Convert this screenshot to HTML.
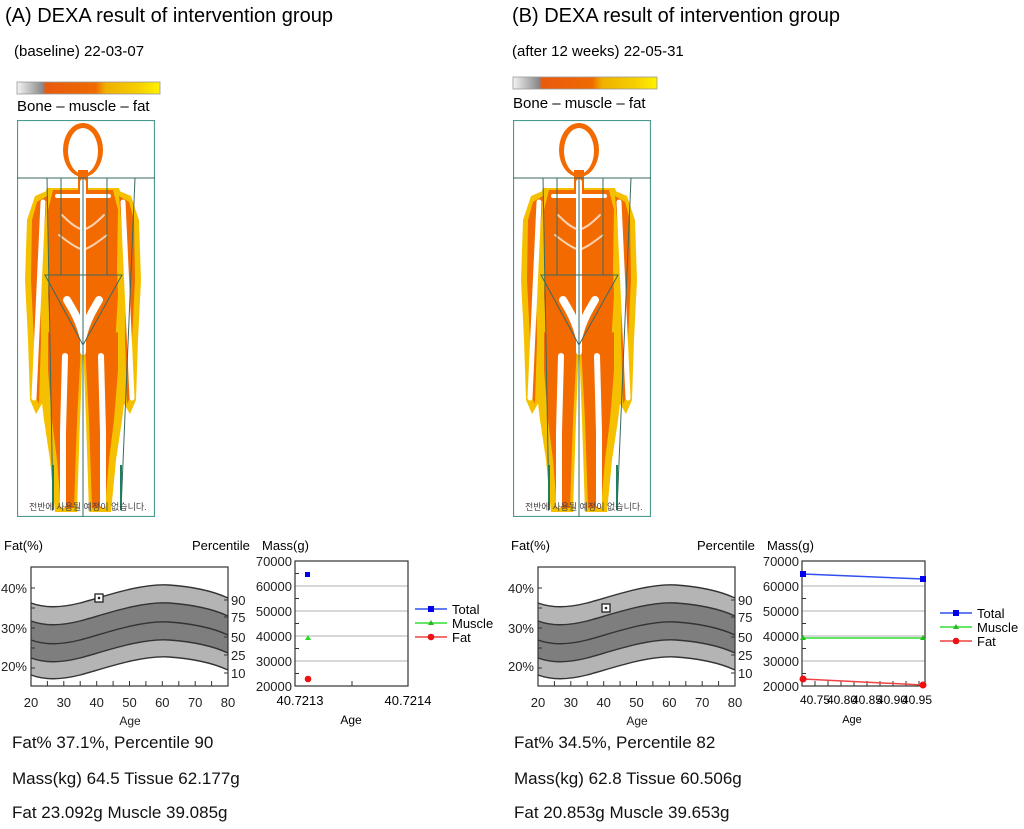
<!DOCTYPE html>
<html><head><meta charset="utf-8"><style>
html,body{margin:0;padding:0;background:#fff}
svg{display:block;font-family:"Liberation Sans","Noto Sans CJK KR",sans-serif}
</style></head><body>
<svg width="1024" height="829" viewBox="0 0 1024 829" xmlns="http://www.w3.org/2000/svg">
<defs>
<linearGradient id="cb" x1="0" x2="1" y1="0" y2="0">
<stop offset="0" stop-color="#f4f4f4"/><stop offset="0.18" stop-color="#888"/>
<stop offset="0.2" stop-color="#e85a10"/><stop offset="0.55" stop-color="#f06a00"/>
<stop offset="0.62" stop-color="#f0b000"/><stop offset="0.85" stop-color="#f5d000"/><stop offset="1" stop-color="#fff200"/>
</linearGradient>
<symbol id="body" viewBox="0 0 138 397" width="138" height="397">
<rect x="0.5" y="0.5" width="137" height="396" fill="#fff" stroke="#4a9a90" stroke-width="1.2"/>
<g fill="#f5c000">
<path d="M30,68 L102,68 L110,90 L108,150 L110,175 L106,232 L26,232 L22,175 L24,150 L22,90 Z"/>
<path d="M100,70 L114,76 L122,100 L124,160 L121,220 L119,280 L113,294 L106,282 L105,220 L106,160 Z"/>
<path d="M32,70 L18,76 L10,100 L8,160 L11,220 L13,280 L19,294 L26,282 L27,220 L26,160 Z"/>
<path d="M66,222 L108,196 L111,250 L105,300 L99,340 L94,392 L72,392 L69,300 Z"/>
<path d="M66,222 L24,196 L21,250 L27,300 L33,340 L38,392 L60,392 L63,300 Z"/>
</g>
<g fill="#f26a00">
<path d="M36,70 L96,70 L101,90 L100,150 L101,175 L98,226 L34,226 L31,175 L32,150 L31,90 Z"/>
<path d="M102,76 L112,82 L117,100 L118,160 L115,220 L113,278 L110,284 L108,220 L109,160 Z"/>
<path d="M30,76 L20,82 L15,100 L14,160 L17,220 L19,278 L22,284 L24,220 L23,160 Z"/>
<path d="M68,226 L101,212 L101,250 L97,300 L92,340 L88,388 L75,388 L72,300 Z"/>
<path d="M64,226 L31,212 L31,250 L35,300 L40,340 L44,388 L57,388 L60,300 Z"/>
</g>
<ellipse cx="66" cy="30" rx="20" ry="27" fill="#f26a00"/>
<ellipse cx="66" cy="31" rx="15" ry="23" fill="#fff"/>
<rect x="61" y="50" width="10" height="20" fill="#f26a00"/>
<g stroke="#fff" stroke-linecap="round" fill="none">
<path d="M66,62 L66,232" stroke-width="6"/>
<path d="M40,76 L92,76" stroke-width="4"/>
<path d="M106,82 L112,212 L115,278 M26,82 L20,212 L17,278" stroke-width="5"/>
<path d="M50,180 C56,190 62,200 66,215 C70,200 76,190 82,180" stroke-width="8"/>
<path d="M84,236 L86,312 L86,385 M48,236 L46,312 L46,385" stroke-width="6"/>
<path d="M45,95 C55,105 60,108 66,110 C72,108 77,105 87,95 M42,115 C55,125 60,128 66,130 C72,128 77,125 90,115" stroke-width="2" opacity="0.7"/>
</g>
<g stroke="#3a6a60" stroke-width="1" fill="none">
<path d="M0,58 L138,58 M66,58 L66,397 M30,58 L36,390 M118,58 L104,390 M44,58 L44,155 M90,58 L90,155 M28,155 L105,155 L66,225 Z"/>
</g>
<g stroke="#1a8060" stroke-width="2"><path d="M36,345 L36,390 M104,345 L104,390"/></g>
<text x="12" y="390" font-size="9" fill="#444">전반에 사용될 예정이 없습니다.</text>
</symbol>
<clipPath id="fc"><rect x="0" y="0" width="197" height="119"/></clipPath>
<path id="cv" d="M0,36 C14,41 29,41 49,36 S109,16 138,18 S184,25 197,31"/>
</defs>

<!-- Panel A -->
<text x="5" y="22" font-size="20">(A) DEXA result of intervention group</text>
<text x="14" y="56" font-size="15">(baseline) 22-03-07</text>
<rect x="17" y="82" width="143" height="12" fill="url(#cb)" stroke="#999" stroke-width="0.8"/>
<text x="17" y="111" font-size="15">Bone – muscle – fat</text>
<use href="#body" x="17" y="120"/>

<!-- Panel B -->
<text x="512" y="22" font-size="20">(B) DEXA result of intervention group</text>
<text x="512" y="56" font-size="15">(after 12 weeks) 22-05-31</text>
<rect x="513" y="77" width="144" height="12" fill="url(#cb)" stroke="#999" stroke-width="0.8"/>
<text x="513" y="108" font-size="15">Bone – muscle – fat</text>
<use href="#body" x="513" y="120"/>

<!-- Fat charts -->
<g id="fatA" transform="translate(31,567)">
<g clip-path="url(#fc)">
<rect width="197" height="119" fill="#fff"/>
<path d="M0,36 C14,41 29,41 49,36 S109,16 138,18 S184,25 197,31 L197,119 L0,119Z" fill="#b4b4b4"/>
<path d="M0,54 C14,59 29,59 49,54 S109,34 138,36 S184,43 197,49 L197,119 L0,119Z" fill="#7e7e7e"/>
<path d="M0,91 C14,96 29,96 49,91 S109,71 138,73 S184,80 197,86 L197,119 L0,119Z" fill="#b4b4b4"/>
<path d="M0,108 C14,113 29,113 49,108 S109,88 138,90 S184,97 197,103 L197,119 L0,119Z" fill="#fff"/>
<g fill="none" stroke="#333" stroke-width="1.4">
<use href="#cv"/><use href="#cv" y="18"/><use href="#cv" y="37"/><use href="#cv" y="55"/><use href="#cv" y="72"/>
</g>
</g>
<rect width="197" height="119" fill="none" stroke="#333" stroke-width="1.2"/>
<g stroke="#333" stroke-width="1"><path d="M16.4,119v-5M32.8,119v-5M49.2,119v-5M65.7,119v-5M82.1,119v-5M98.5,119v-5M114.9,119v-5M131.3,119v-5M147.8,119v-5M164.2,119v-5M180.6,119v-5M0,21h4M0,41h4M0,61h4M0,81h4M0,101h4M197,33h-4M197,50h-4M197,70h-4M197,88h-4M197,106h-4"/></g>
<g font-size="13" fill="#222">
<text x="-4" y="26" text-anchor="end">40%</text><text x="-4" y="66" text-anchor="end">30%</text><text x="-4" y="104" text-anchor="end">20%</text>
<text x="200" y="38">90</text><text x="200" y="55">75</text><text x="200" y="75">50</text><text x="200" y="93">25</text><text x="200" y="111">10</text>
<g text-anchor="middle"><text x="0" y="140">20</text><text x="32.8" y="140">30</text><text x="65.7" y="140">40</text><text x="98.5" y="140">50</text><text x="131.3" y="140">60</text><text x="164.2" y="140">70</text><text x="197" y="140">80</text>
<text x="99" y="158" font-size="12">Age</text></g>
</g>
</g>
<rect x="95" y="594" width="8" height="8" fill="#fff" stroke="#222" stroke-width="1.3"/><circle cx="99" cy="598" r="1.3" fill="#222"/>
<text x="4" y="550" font-size="13">Fat(%)</text><text x="192" y="550" font-size="13">Percentile</text>

<use href="#fatA" x="507"/>
<rect x="602" y="604" width="8" height="8" fill="#fff" stroke="#222" stroke-width="1.3"/><circle cx="606" cy="608" r="1.3" fill="#222"/>
<text x="511" y="550" font-size="13">Fat(%)</text><text x="697" y="550" font-size="13">Percentile</text>

<!-- Mass chart A -->
<text x="262" y="550" font-size="13">Mass(g)</text>
<g stroke="#ccc" stroke-width="1.5"><path d="M295,586H408M295,611H408M295,636H408M295,661H408"/></g>
<rect x="295" y="561" width="113" height="125" fill="none" stroke="#333" stroke-width="1.2"/>
<g stroke="#333"><path d="M295,573.5h4M295,598.5h4M295,623.5h4M295,648.5h4M295,673.5h4M352,686v-5"/></g>
<g font-size="13" text-anchor="end" fill="#222"><text x="292" y="566">70000</text><text x="292" y="591">60000</text><text x="292" y="616">50000</text><text x="292" y="641">40000</text><text x="292" y="666">30000</text><text x="292" y="691">20000</text></g>
<g font-size="13" text-anchor="middle"><text x="300" y="705">40.7213</text><text x="408" y="705">40.7214</text><text x="351" y="724" font-size="12">Age</text></g>
<rect x="305" y="572" width="5" height="5" fill="#0000ee"/>
<path d="M308,635 l3,5 h-6z" fill="#22dd22"/>
<circle cx="308" cy="679" r="3.3" fill="#ee1111"/>
<g font-size="13"><path d="M415,609h32" stroke="#3050ee" stroke-width="1.6"/><rect x="428" y="606" width="6" height="6" fill="#0000ee"/><text x="452" y="614">Total</text>
<path d="M415,623h32" stroke="#33dd33" stroke-width="1.6"/><path d="M431,620 l3,5 h-6z" fill="#22bb22"/><text x="452" y="628">Muscle</text>
<path d="M415,637h32" stroke="#ee4444" stroke-width="1.6"/><circle cx="431" cy="637" r="3.3" fill="#ee1111"/><text x="452" y="642">Fat</text></g>

<!-- Mass chart B -->
<text x="767" y="550" font-size="13">Mass(g)</text>
<g stroke="#ccc" stroke-width="1.5"><path d="M802,586H925M802,611H925M802,636H925M802,661H925"/></g>
<rect x="802" y="561" width="123" height="125" fill="none" stroke="#333" stroke-width="1.2"/>
<g stroke="#333"><path d="M802,573.5h4M802,598.5h4M802,623.5h4M802,648.5h4M802,673.5h4M815,686v-5M828,686v-5M841,686v-5M854,686v-5M867,686v-5M880,686v-5M893,686v-5M906,686v-5M919,686v-5"/></g>
<g font-size="13" text-anchor="end" fill="#222"><text x="799" y="566">70000</text><text x="799" y="591">60000</text><text x="799" y="616">50000</text><text x="799" y="641">40000</text><text x="799" y="666">30000</text><text x="799" y="691">20000</text></g>
<g font-size="12" text-anchor="middle"><text x="815" y="704">40.75</text><text x="842" y="704">40.80</text><text x="867" y="704">40.85</text><text x="892" y="704">40.90</text><text x="917" y="704">40.95</text><text x="852" y="723" font-size="11">Age</text></g>
<path d="M803,574L923,579" stroke="#3050ee" stroke-width="1.5"/>
<path d="M803,638L923,638" stroke="#33dd33" stroke-width="1.5"/>
<path d="M803,679L923,685" stroke="#ee4444" stroke-width="1.5"/>
<rect x="800" y="571" width="6" height="6" fill="#0000ee"/><rect x="920" y="576" width="6" height="6" fill="#0000ee"/>
<path d="M803,635 l3,5 h-6z M923,635 l3,5 h-6z" fill="#22bb22"/>
<circle cx="803" cy="679" r="3.5" fill="#ee1111"/><circle cx="923" cy="685" r="3.5" fill="#ee1111"/>
<g font-size="13"><path d="M940,613h32" stroke="#3050ee" stroke-width="1.6"/><rect x="953" y="610" width="6" height="6" fill="#0000ee"/><text x="977" y="618">Total</text>
<path d="M940,627h32" stroke="#33dd33" stroke-width="1.6"/><path d="M956,624 l3,5 h-6z" fill="#22bb22"/><text x="977" y="632">Muscle</text>
<path d="M940,641h32" stroke="#ee4444" stroke-width="1.6"/><circle cx="956" cy="641" r="3.3" fill="#ee1111"/><text x="977" y="646">Fat</text></g>

<!-- Bottom text -->
<g font-size="17" fill="#111">
<text x="12" y="748">Fat% 37.1%, Percentile 90</text>
<text x="12" y="784">Mass(kg) 64.5 Tissue 62.177g</text>
<text x="12" y="818">Fat 23.092g Muscle 39.085g</text>
<text x="514" y="748">Fat% 34.5%, Percentile 82</text>
<text x="514" y="784">Mass(kg) 62.8 Tissue 60.506g</text>
<text x="514" y="818">Fat 20.853g Muscle 39.653g</text>
</g>
</svg>
</body></html>
